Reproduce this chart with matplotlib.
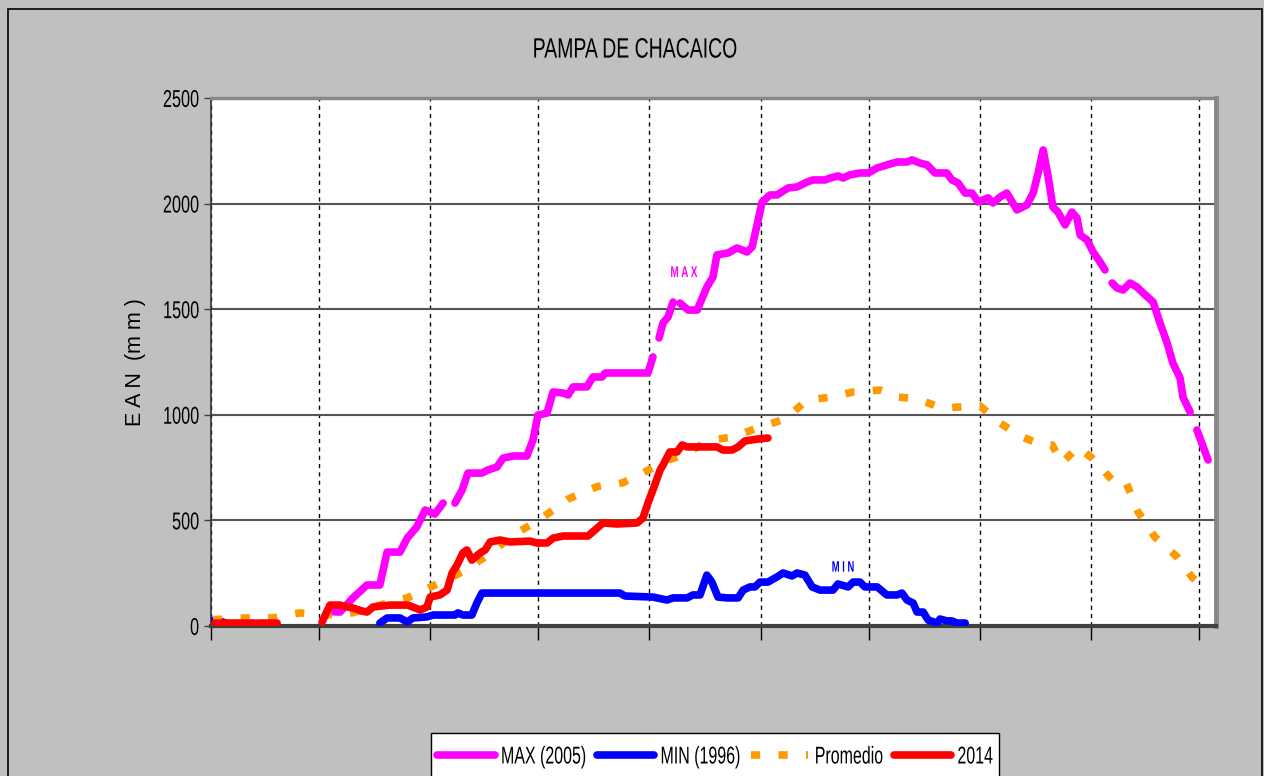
import numpy as np
import matplotlib
matplotlib.use("Agg")
import matplotlib.pyplot as plt
from matplotlib.patches import Rectangle
from matplotlib.patheffects import AbstractPathEffect
from matplotlib.transforms import Affine2D
from matplotlib.textpath import TextToPath

plt.rcParams['font.family'] = ['Liberation Sans', 'DejaVu Sans']

nan = np.nan

# x = days counted from 1 April, ticks at the start of each month (no labels)
month_starts = [0, 30, 61, 91, 122, 153, 183, 214, 245, 275]

# MAX (2005) - gaps are missing data
max_days = [33.4, 35.9, 39.5, 43.4, 47.0, 49.0, 52.6, 54.6, 57.3, 59.6, 62.3, 64.6, 66.0,
            67.9, 69.9, 71.5, 75.4, 77.1, 79.6, 81.3, 84.1, 87.9, 89.6, 91.0, 93.5, 95.2,
            98.0, 99.4, 100.8, 104.6, 106.3, 108.8, 109.7, 121.6, 123.0, 123.8,
            124.7, 125.8, 127.2, 128.6, 129.5,
            130.5, 132.8, 135.3, 138.0, 139.7, 140.8, 143.9, 146.4, 149.2, 150.6, 153.4,
            155.6, 157.5, 160.6, 163.1, 165.9, 167.5, 170.9, 172.3, 174.5, 175.9, 177.8,
            180.6, 182.9, 185.4, 188.1, 190.9, 193.7, 195.1, 197.3, 199.3, 201.5, 204.8,
            206.2, 207.9, 209.9, 211.8, 213.5, 216.3, 217.6, 219.6, 221.5, 224.3, 227.1,
            228.8, 230.2, 231.6, 233.0, 234.3, 235.7, 237.7, 239.6, 241.0, 241.9, 243.8,
            245.5, 247.4, 248.8, 249.8,
            250.8, 252.2, 253.8, 255.8, 257.7, 259.4, 262.2, 264.1, 266.1, 267.7, 269.7,
            270.5, 272.5, 273.4,
            274.4, 277.5]
max_vals = [68, 66, 133, 194, 194, 350, 350, 416, 470, 549, 530, 582, nan,
            582, 644, 724, 724, 739, 753, 795, 805, 805, 880, 999, 1008, 1108,
            1103, 1094, 1132, 1132, 1179, 1179, 1198, 1198, 1274, nan,
            1364, 1435, 1463, 1534, nan,
            1529, 1496, 1496, 1605, 1652, 1757, 1766, 1790, 1771, 1795, 2008,
            2041, 2041, 2074, 2079, 2102, 2112, 2112, 2121, 2131, 2121, 2136,
            2145, 2145, 2169, 2183, 2197, 2197, 2207, 2192, 2183, 2145, 2145,
            2112, 2098, 2050, 2050, 2008, 2027, 2003, 2031, 2050, 1970, 1994,
            2050, 2145, 2254, 2126, 1984, 1960, 1899, 1960, 1932, 1851, 1828,
            1771, 1724, 1686, nan,
            1624, 1600, 1591, 1624, 1605, 1577, 1534, 1435, 1340, 1245, 1174,
            1084, 1013, nan,
            928, 786]

# MIN (1996)
min_days = [0.6, 1.8, 3.9, 6.0, 7.0,
            47.0, 49.0, 52.6, 54.6, 56.2, 60.1, 61.8, 67.9, 68.7, 70.1, 72.6, 74.0,
            75.4, 113.8, 115.2, 123.0, 126.9, 128.6, 132.5, 134.1, 136.1, 138.0, 139.4,
            141.1, 143.6, 146.7, 148.1, 150.0, 151.4, 152.8, 155.0, 157.5, 159.2, 161.7,
            163.1, 165.3, 167.3, 169.5, 173.1, 174.5, 177.3, 178.7, 180.6, 182.0, 185.4,
            188.1, 190.9, 192.3, 193.7, 195.4, 196.5, 198.2, 199.6, 202.1, 202.9, 204.8,
            206.2, 207.6, 209.9]
min_vals = [25, 28, 15, 8, nan,
            14, 38, 38, 19, 38, 43, 52, 52, 62, 52, 52, 109,
            156, 156, 142, 137, 123, 133, 133, 147, 147, 241, 208,
            137, 133, 133, 170, 185, 185, 208, 208, 232, 251, 237,
            251, 241, 185, 170, 170, 199, 185, 208, 208, 185, 185,
            147, 147, 156, 123, 109, 66, 66, 28, 14, 33, 24,
            24, 14, 14]

# Promedio
prom_days = [0.6, 10.0, 17.0, 24.8, 31.7, 39.2, 47.0, 54.6, 62.3, 69.9, 77.1, 84.1,
             91.6, 99.4, 107.4, 114.4, 120.2, 125.8, 131.4, 138.9, 145.3, 152.8, 159.8,
             165.9, 172.8, 178.7, 186.2, 191.2, 196.5, 203.5, 208.5, 214.0, 219.6, 225.2,
             230.7, 234.1, 236.8, 241.3, 245.2, 250.8, 254.4, 258.0, 262.7, 268.9, 273.0,
             277.5]
prom_vals = [30, 38, 38, 62, 52, 62, 99, 133, 194, 256, 336, 431,
             505, 601, 660, 677, 724, 777, 810, 880, 895, 942, 980,
             1070, 1084, 1108, 1117, 1084, 1075, 1032, 1037, 1042, 961, 900,
             860, 857, 772, 848, 795, 691, 691, 540, 421, 327, 232,
             161]

# 2014
y14_days = [1.1, 12.2, 12.7, 13.1, 18.4, 20.0,
            30.9, 33.1, 35.9, 36.7, 39.5, 42.0, 43.4, 45.1, 47.6, 49.8, 54.8, 58.2,
            60.1, 61.0, 63.7, 65.7, 67.1, 68.5, 70.1, 71.2, 72.6, 74.9, 76.3, 77.7,
            80.4, 83.2, 88.8, 90.7, 93.5, 95.2, 98.0, 104.9, 106.9, 109.1, 113.0,
            118.6, 120.2, 121.6, 123.0, 125.0, 125.8, 127.7, 129.7, 131.1, 132.5,
            140.8, 142.5, 145.0, 146.7, 148.6, 152.0, 155.0]
y14_vals = [14, 14, nan, 14, 14, nan,
            19, 99, 99, 95, 85, 71, 66, 90, 95, 99, 99, 76,
            90, 137, 147, 170, 251, 289, 346, 360, 312, 346, 360, 398,
            407, 398, 402, 393, 393, 416, 426, 426, 455, 488, 483,
            488, 511, 582, 644, 739, 762, 824, 824, 857, 848,
            848, 833, 833, 848, 876, 885, 890]


class Tall(AbstractPathEffect):
    """Stretch glyphs upward, the original chart uses a tall narrow font."""

    def __init__(self, sy=1.5):
        super().__init__()
        self.sy = sy

    def draw_path(self, renderer, gc, tpath, affine, rgbFace=None):
        mid = 0.36 * TextToPath.FONT_SCALE  # middle of the capitals
        stretch = Affine2D().translate(0, -mid).scale(1, self.sy).translate(0, mid)
        renderer.draw_path(gc, tpath, stretch + affine, rgbFace)


W, H = 1264, 776
fig = plt.figure(figsize=(W / 100, H / 100), dpi=100, facecolor='#C0C0C0')
ax = fig.add_axes([211 / W, 1 - 626 / H, 1005 / W, 528 / H])
ax.set_facecolor('white')

# frame round the whole chart, its bottom runs off the picture
fig.patches.append(Rectangle((8 / W, -0.05), 1254 / W, 1.05 - 9 / H,
                             transform=fig.transFigure, fill=False,
                             edgecolor='black', lw=1.2))

lw = 5.5
ax.plot(max_days, max_vals, color='#FF00FF', lw=lw, solid_capstyle='round',
        solid_joinstyle='round', label='MAX (2005)', zorder=3)
ax.plot(min_days, min_vals, color='#0000FF', lw=lw, solid_capstyle='round',
        solid_joinstyle='round', label='MIN (1996)', zorder=3)
ax.plot(prom_days, prom_vals, color='#FF9900', lw=5.5, dashes=(1.2, 2.4),
        dash_capstyle='butt', label='Promedio', zorder=3)
ax.plot(y14_days, y14_vals, color='#FF0000', lw=lw, solid_capstyle='round',
        solid_joinstyle='round', label='2014', zorder=3)

ax.text(131.6, 1676, 'M A X', color='#FF00FF', fontsize=7.2, fontweight='bold',
        ha='center', va='center', path_effects=[Tall(1.55)])
ax.text(175.9, 279, 'M I N', color='#0000FF', fontsize=6.8, fontweight='bold',
        ha='center', va='center', path_effects=[Tall(1.6)])

ax.set_xlim(0, 279.7)
ax.set_ylim(0, 2500)
ax.set_yticks([0, 500, 1000, 1500, 2000, 2500])
ax.set_xticks(month_starts)
ax.set_xticklabels([])
ax.tick_params(axis='y', labelsize=11.7, length=5, width=1, color='#404040', pad=3.6)
ax.tick_params(axis='x', length=10, width=1, color='black', direction='out')
for t in ax.get_yticklabels():
    t.set_path_effects([Tall(1.5)])

ax.grid(axis='y', color='#555555', lw=1.5, ls='-', zorder=1)
ax.grid(axis='x', color='black', lw=1, ls=(0, (3, 3)), zorder=1)

ax.spines['left'].set_color('#333333')
ax.spines['left'].set_linewidth(1.2)
ax.spines['bottom'].set_color('#404040')
ax.spines['bottom'].set_linewidth(3)
ax.spines['top'].set_color('#888888')
ax.spines['top'].set_linewidth(2.5)
ax.spines['right'].set_color('#888888')
ax.spines['right'].set_linewidth(3.5)

ax.set_ylabel('E A N  (m m )', fontsize=15.5, va='center')
ax.yaxis.set_label_coords((135 - 211) / 1005, 0.5)

fig.text(635 / W, 1 - 50 / H, 'PAMPA DE CHACAICO', fontsize=14,
         ha='center', va='center', path_effects=[Tall(1.44)])

leg = fig.legend(loc='center', bbox_to_anchor=(715 / W, 1 - 756 / H),
                 ncol=4, fontsize=11.5, frameon=False,
                 handlelength=3.6, handletextpad=0.4, columnspacing=0.65,
                 borderpad=0.35, borderaxespad=0)
for t in leg.get_texts():
    t.set_path_effects([Tall(1.52)])

# white legend box, top edge fixed, bottom cut by the picture edge
fig.canvas.draw()
bb = leg.get_window_extent()
fig.patches.append(Rectangle((bb.x0 / W, -0.05), bb.width / W, 0.05 + (H - 733) / H,
                             transform=fig.transFigure, facecolor='white',
                             edgecolor='black', lw=1, zorder=2))

fig.savefig('out.png', dpi=100, facecolor=fig.get_facecolor())
